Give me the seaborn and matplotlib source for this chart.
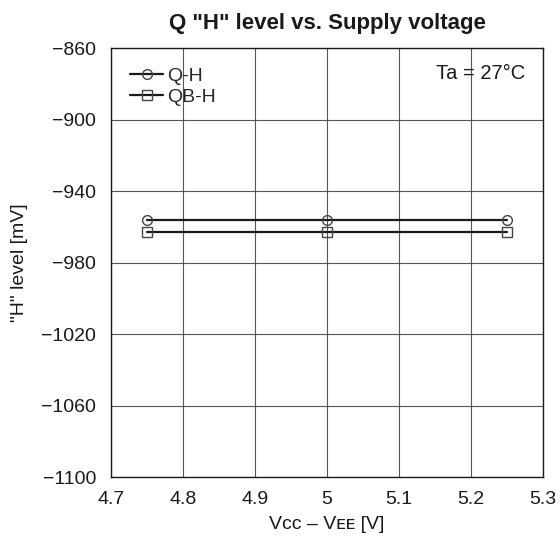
import matplotlib.pyplot as plt
import pandas as pd
import seaborn as sns

# Data
supply_voltage = [4.75, 5.0, 5.25]
q_h_level = [-956, -956, -956]
qb_h_level = [-963, -963, -963]
series_names = ["Q-H", "QB-H"]

x_ticks = [4.7, 4.8, 4.9, 5.0, 5.1, 5.2, 5.3]
x_tick_labels = ["4.7", "4.8", "4.9", "5", "5.1", "5.2", "5.3"]
y_ticks = [-1100, -1060, -1020, -980, -940, -900, -860]

df = pd.DataFrame({
    "voltage": supply_voltage * 2,
    "level": q_h_level + qb_h_level,
    "series": [series_names[0]] * 3 + [series_names[1]] * 3,
})

sns.set_theme(style="white")
plt.rcParams["font.family"] = ["Liberation Sans", "DejaVu Sans"]
plt.rcParams["axes.unicode_minus"] = True

fig = plt.figure(figsize=(5.6, 5.46), dpi=100)
ax = fig.add_axes([0.198, 0.126, 0.772, 0.786])

sns.lineplot(
    data=df, x="voltage", y="level", hue="series", style="series",
    markers={"Q-H": "o", "QB-H": "s"}, dashes=False,
    palette={"Q-H": "#1a1a1a", "QB-H": "#1a1a1a"},
    linewidth=1.6, markersize=7, markerfacecolor="none",
    markeredgecolor="#444444", markeredgewidth=1.0, ax=ax,
)

ax.set_xlim(4.7, 5.3)
ax.set_ylim(-1100, -860)
ax.set_xticks(x_ticks)
ax.set_xticklabels(x_tick_labels)
ax.set_yticks(y_ticks)
ax.tick_params(axis="both", labelsize=14, length=0, colors="#1a1a1a")
ax.tick_params(axis="y", pad=10.5)
ax.tick_params(axis="x", pad=10)
ax.grid(True, color="#555555", linewidth=0.8)
for spine in ax.spines.values():
    spine.set_color("#1a1a1a")
    spine.set_linewidth(1.0)

ax.set_title('Q "H" level vs. Supply voltage', fontsize=16, fontweight="bold",
             pad=14, color="#1a1a1a")
ax.set_xlabel("Vᴄᴄ – Vᴇᴇ [V]", fontsize=14, color="#1a1a1a", labelpad=6)
ax.set_ylabel('"H" level [mV]', fontsize=14, color="#1a1a1a", labelpad=10)

ax.text(0.958, 0.962, "Ta = 27°C", transform=ax.transAxes, ha="right", va="top",
        fontsize=14.5, color="#1a1a1a")

leg = ax.legend(loc="upper left", frameon=False, fontsize=14, handlelength=1.7,
                handletextpad=0.2, borderaxespad=0.6, labelspacing=0.15)

fig.savefig("out.png", dpi=100)
